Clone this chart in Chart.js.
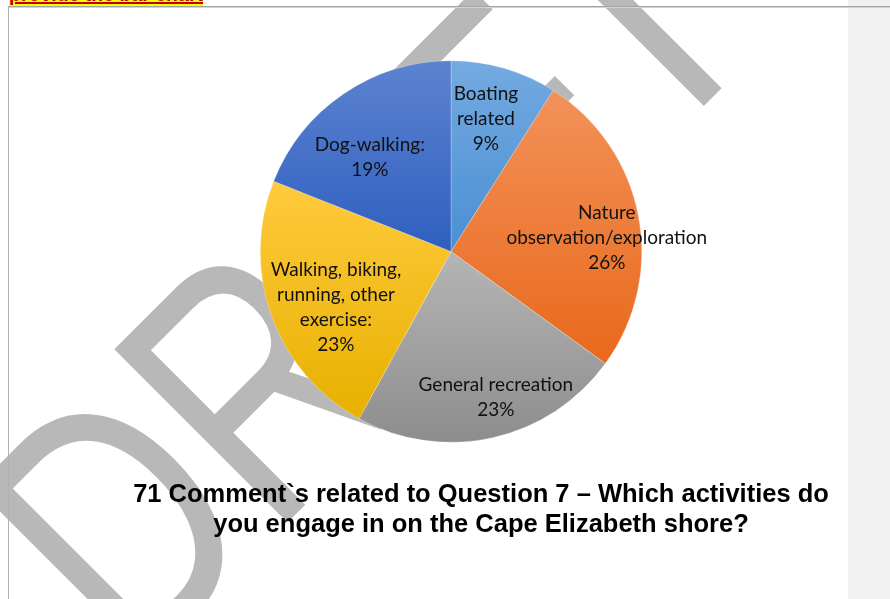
<!DOCTYPE html>
<html>
<head>
<meta charset="utf-8">
<script src="https://cdn.jsdelivr.net/npm/chart.js@4.4.1/dist/chart.umd.min.js"></script>
<style>
  body { margin: 0; background: #fff; overflow: hidden; }
  #page { position: relative; width: 890px; height: 599px; overflow: hidden; }
  #side { position: absolute; left: 848px; top: 0; width: 42px; height: 599px; background: #f2f2f2; }
  #wrap { position: absolute; left: 0; top: 0; width: 890px; height: 599px; }
  #topline { position: absolute; left: 8px; top: 6px; width: 882px; height: 1px; background: #a3a3a3; border-bottom: 1px solid #d4d4d4; }
  #leftline { position: absolute; left: 8px; top: 7px; width: 1px; height: 592px; background: #b0b0b0; }
  #note { position: absolute; left: 9px; top: -17px; font: bold 19.5px "Liberation Sans"; color: #c00000;
          background: #ffff00; text-decoration: underline; text-decoration-thickness: 2px; white-space: nowrap; }
  #title { position: absolute; left: 31px; width: 900px; top: 478px; text-align: center;
           font: bold 25.5px "Liberation Sans"; line-height: 30px; color: #000; }
</style>
</head>
<body>
<div id="page">
  <div id="side"></div>
  <div id="wrap"><canvas id="pieChart"></canvas></div>
  <div id="topline"></div>
  <div id="leftline"></div>
  <span id="note">provide the bar chart</span>
  <div id="title">71 Comment`s related to Question 7 – Which activities do<br>you engage in on the Cape Elizabeth shore?</div>
</div>
<script>
// data
var categories = [
    ['Boating', 'related'],
    ['Nature', 'observation/exploration'],
    ['General recreation'],
    ['Walking, biking,', 'running, other', 'exercise:'],
    ['Dog-walking:']
];
var shares = [9, 26, 23, 23, 19];

// light at the top of each slice, darker at the bottom
var topColors = ['#74aae0', '#f3915a', '#b5b5b5', '#ffca3c', '#5c83d0'];
var bottomColors = ['#4a8fd4', '#e8691b', '#8d8d8d', '#e8b000', '#2f5fbf'];

function sliceFill(c) {
    var chart = c.chart, area = chart.chartArea;
    var i = c.dataIndex;
    if (!area) return topColors[i];
    var total = shares.reduce((a, b) => a + b, 0);
    var before = 0;
    for (let k = 0; k < i; k++) before += shares[k];
    var a0 = -Math.PI / 2 + before / total * 2 * Math.PI;
    var a1 = a0 + shares[i] / total * 2 * Math.PI;
    var cy = (area.top + area.bottom) / 2;
    var r = Math.min(area.width, area.height) / 2;
    var ys = [cy, cy + r * Math.sin(a0), cy + r * Math.sin(a1)];
    if (a0 <= -Math.PI / 2 + 1e-6 || a1 >= 1.5 * Math.PI - 1e-6) ys.push(cy - r);
    if (a0 <= Math.PI / 2 && a1 >= Math.PI / 2) ys.push(cy + r);
    var g = chart.ctx.createLinearGradient(0, Math.min(...ys), 0, Math.max(...ys));
    g.addColorStop(0, topColors[i]);
    g.addColorStop(1, bottomColors[i]);
    return g;
}

// big grey DRAFT behind everything
var watermark = {
    id: 'watermark',
    beforeDraw(chart, args, o) {
        var ctx = chart.ctx;
        ctx.save();
        ctx.translate(o.x, o.y);
        ctx.rotate(o.angle * Math.PI / 180);
        ctx.scale(o.squeeze, 1);
        ctx.font = o.font;
        ctx.fillStyle = o.color;
        ctx.textBaseline = 'alphabetic';
        ctx.fillText(o.text, o.start / o.squeeze, 0);
        ctx.restore();
    }
};

// category + percent written inside each slice
var sliceLabels = {
    id: 'sliceLabels',
    afterDatasetsDraw(chart, args, o) {
        var ctx = chart.ctx;
        var meta = chart.getDatasetMeta(0);
        ctx.save();
        ctx.font = o.font;
        ctx.fillStyle = o.color;
        ctx.textAlign = 'center';
        ctx.textBaseline = 'middle';
        meta.data.forEach((arc, i) => {
            var mid = (arc.startAngle + arc.endAngle) / 2 + o.shift[i] * Math.PI / 180;
            var r = arc.outerRadius * o.radius[i];
            var x = arc.x + Math.cos(mid) * r;
            var y = arc.y + Math.sin(mid) * r;
            var lines = [].concat(chart.data.labels[i], shares[i] + '%');
            lines.forEach((t, k) => {
                ctx.fillText(t, x, y + (k - (lines.length - 1) / 2) * o.lineHeight);
            });
        });
        ctx.restore();
    }
};

var ctx = document.getElementById('pieChart').getContext('2d');

var pieChart = new Chart(ctx, {
    type: 'pie',
    data: {
        labels: categories,
        datasets: [{
            data: shares,
            backgroundColor: sliceFill,
            borderColor: 'rgba(255, 255, 255, 0.5)',
            borderWidth: 0.5
        }]
    },
    options: {
        responsive: true,
        maintainAspectRatio: false,
        animation: false,
        events: [],
        layout: {
            padding: { top: 60, bottom: 156, left: 260, right: 248 }
        },
        plugins: {
            legend: { display: false },
            tooltip: { enabled: false },
            title: { display: false },
            watermark: {
                text: 'DRAFT', x: 712, y: 98, angle: -45, squeeze: 0.76, start: -818,
                font: '356px "Liberation Sans"', color: '#b9b8b9'
            },
            sliceLabels: {
                font: '19px Lato', color: '#111', lineHeight: 25,
                radius: [0.717, 0.82, 0.80, 0.67, 0.65],
                shift: [-1.4, 5.8, -4.5, -6, -6.7]
            }
        }
    },
    plugins: [watermark, sliceLabels]
});
</script>
</body>
</html>
